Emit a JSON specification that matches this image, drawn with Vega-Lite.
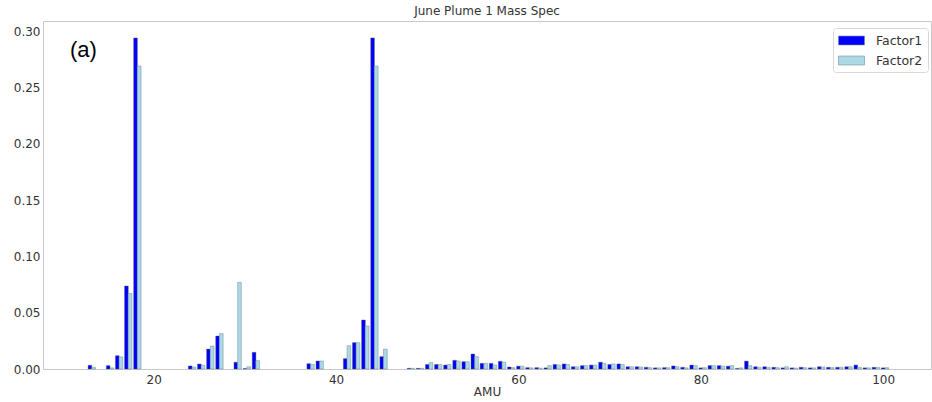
{
  "$schema": "https://vega.github.io/schema/vega-lite/v6.json",
  "width": 888,
  "height": 348,
  "autosize": {"type": "none"},
  "padding": {"left": 43, "top": 21, "right": 1, "bottom": 33},
  "title": {"text": "June Plume 1 Mass Spec", "fontSize": 12, "fontWeight": "normal", "font": "DejaVu Sans", "color": "#333", "offset": 3},
  "datasets": {
    "spec": [
      {"AMU": 13, "Factor1": 0.0033, "Factor2": 0.0015},
      {"AMU": 15, "Factor1": 0.003, "Factor2": 0.001},
      {"AMU": 16, "Factor1": 0.0118, "Factor2": 0.0107},
      {"AMU": 17, "Factor1": 0.0737, "Factor2": 0.067},
      {"AMU": 18, "Factor1": 0.294, "Factor2": 0.269},
      {"AMU": 24, "Factor1": 0.0027, "Factor2": 0.0018},
      {"AMU": 25, "Factor1": 0.0044, "Factor2": 0.0033},
      {"AMU": 26, "Factor1": 0.0177, "Factor2": 0.0204},
      {"AMU": 27, "Factor1": 0.0293, "Factor2": 0.0314},
      {"AMU": 29, "Factor1": 0.006, "Factor2": 0.077},
      {"AMU": 30, "Factor1": 0.0004, "Factor2": 0.002},
      {"AMU": 31, "Factor1": 0.0148, "Factor2": 0.0074},
      {"AMU": 37, "Factor1": 0.0047, "Factor2": 0.0041},
      {"AMU": 38, "Factor1": 0.0071, "Factor2": 0.0071},
      {"AMU": 41, "Factor1": 0.0092, "Factor2": 0.0207},
      {"AMU": 42, "Factor1": 0.0234, "Factor2": 0.0234},
      {"AMU": 43, "Factor1": 0.0435, "Factor2": 0.0382},
      {"AMU": 44, "Factor1": 0.294, "Factor2": 0.269},
      {"AMU": 45, "Factor1": 0.011, "Factor2": 0.0177},
      {"AMU": 48, "Factor1": 0.0006, "Factor2": 0.0006},
      {"AMU": 49, "Factor1": 0.0006, "Factor2": 0.0006},
      {"AMU": 50, "Factor1": 0.004, "Factor2": 0.0057},
      {"AMU": 51, "Factor1": 0.004, "Factor2": 0.004},
      {"AMU": 52, "Factor1": 0.0035, "Factor2": 0.004},
      {"AMU": 53, "Factor1": 0.0077, "Factor2": 0.0071},
      {"AMU": 54, "Factor1": 0.0065, "Factor2": 0.0065},
      {"AMU": 55, "Factor1": 0.0133, "Factor2": 0.011},
      {"AMU": 56, "Factor1": 0.005, "Factor2": 0.005},
      {"AMU": 57, "Factor1": 0.005, "Factor2": 0.0035},
      {"AMU": 58, "Factor1": 0.0068, "Factor2": 0.006},
      {"AMU": 59, "Factor1": 0.0018, "Factor2": 0.0012},
      {"AMU": 60, "Factor1": 0.0025, "Factor2": 0.0025},
      {"AMU": 61, "Factor1": 0.0012, "Factor2": 0.001},
      {"AMU": 62, "Factor1": 0.0012, "Factor2": 0.0008},
      {"AMU": 63, "Factor1": 0.001, "Factor2": 0.003},
      {"AMU": 64, "Factor1": 0.004, "Factor2": 0.0035},
      {"AMU": 65, "Factor1": 0.0045, "Factor2": 0.004},
      {"AMU": 66, "Factor1": 0.002, "Factor2": 0.002},
      {"AMU": 67, "Factor1": 0.003, "Factor2": 0.003},
      {"AMU": 68, "Factor1": 0.0035, "Factor2": 0.0035},
      {"AMU": 69, "Factor1": 0.006, "Factor2": 0.005},
      {"AMU": 70, "Factor1": 0.004, "Factor2": 0.0045},
      {"AMU": 71, "Factor1": 0.0045, "Factor2": 0.004},
      {"AMU": 72, "Factor1": 0.002, "Factor2": 0.002},
      {"AMU": 73, "Factor1": 0.002, "Factor2": 0.0018},
      {"AMU": 74, "Factor1": 0.0015, "Factor2": 0.0012},
      {"AMU": 75, "Factor1": 0.001, "Factor2": 0.001},
      {"AMU": 76, "Factor1": 0.0012, "Factor2": 0.0012},
      {"AMU": 77, "Factor1": 0.0027, "Factor2": 0.002},
      {"AMU": 78, "Factor1": 0.0015, "Factor2": 0.001},
      {"AMU": 79, "Factor1": 0.0035, "Factor2": 0.003},
      {"AMU": 80, "Factor1": 0.001, "Factor2": 0.0012},
      {"AMU": 81, "Factor1": 0.003, "Factor2": 0.003},
      {"AMU": 82, "Factor1": 0.003, "Factor2": 0.0025},
      {"AMU": 83, "Factor1": 0.0025, "Factor2": 0.003},
      {"AMU": 84, "Factor1": 0.0005, "Factor2": 0.001},
      {"AMU": 85, "Factor1": 0.007, "Factor2": 0.003},
      {"AMU": 86, "Factor1": 0.002, "Factor2": 0.0015},
      {"AMU": 87, "Factor1": 0.002, "Factor2": 0.0015},
      {"AMU": 88, "Factor1": 0.0015, "Factor2": 0.0012},
      {"AMU": 89, "Factor1": 0.001, "Factor2": 0.002},
      {"AMU": 90, "Factor1": 0.001, "Factor2": 0.0008},
      {"AMU": 91, "Factor1": 0.0015, "Factor2": 0.0012},
      {"AMU": 92, "Factor1": 0.001, "Factor2": 0.001},
      {"AMU": 93, "Factor1": 0.002, "Factor2": 0.0018},
      {"AMU": 94, "Factor1": 0.0015, "Factor2": 0.0012},
      {"AMU": 95, "Factor1": 0.0015, "Factor2": 0.0015},
      {"AMU": 96, "Factor1": 0.002, "Factor2": 0.002},
      {"AMU": 97, "Factor1": 0.0035, "Factor2": 0.0015},
      {"AMU": 98, "Factor1": 0.001, "Factor2": 0.001},
      {"AMU": 99, "Factor1": 0.0015, "Factor2": 0.0015},
      {"AMU": 100, "Factor1": 0.001, "Factor2": 0.0012}
    ]
  },
  "encoding": {
    "x": {
      "type": "quantitative",
      "scale": {"domain": [8.4, 104.7], "nice": false, "zero": false},
      "axis": {"title": "AMU", "values": [20, 40, 60, 80, 100], "grid": false, "ticks": false, "domain": false, "labelPadding": 5, "titlePadding": 1}
    },
    "y": {
      "type": "quantitative",
      "scale": {"domain": [0, 0.309], "nice": false},
      "axis": {"title": null, "values": [0, 0.05, 0.1, 0.15, 0.2, 0.25, 0.3], "format": ".2f", "grid": false, "ticks": false, "domain": false, "labelPadding": 3}
    }
  },
  "layer": [
    {
      "data": {"name": "spec"},
      "mark": {"type": "bar", "width": 3.69, "xOffset": 0, "stroke": "#555", "strokeWidth": 0.4},
      "encoding": {
        "x": {"field": "AMU"},
        "y": {"field": "Factor1"},
        "color": {
          "datum": "Factor1",
          "scale": {"domain": ["Factor1", "Factor2"], "range": ["#0000ff", "#add8e6"]},
          "legend": {
            "title": null,
            "orient": "none",
            "legendX": 790,
            "legendY": 7,
            "strokeColor": "#d8d8d8",
            "cornerRadius": 3,
            "padding": 5,
            "fillColor": "white",
            "symbolType": "M-1.86,-0.64h3.72v1.28h-3.72z",
            "symbolSize": 196,
            "symbolStrokeColor": "#888",
            "symbolStrokeWidth": 0.6,
            "symbolOpacity": 1,
            "symbolOffset": 6,
            "labelFontSize": 12.5,
            "labelFont": "DejaVu Sans",
            "labelColor": "#333",
            "labelOffset": 17,
            "rowPadding": 6
          }
        }
      }
    },
    {
      "data": {"name": "spec"},
      "mark": {"type": "bar", "width": 3.69, "xOffset": 3.69, "stroke": "#6f8f99", "strokeWidth": 0.5},
      "encoding": {
        "x": {"field": "AMU"},
        "y": {"field": "Factor2"},
        "color": {"datum": "Factor2"}
      }
    },
    {
      "data": {"values": [{"label": "(a)"}]},
      "mark": {"type": "text", "font": "Liberation Sans", "fontSize": 22, "align": "left", "baseline": "middle", "color": "black"},
      "encoding": {
        "text": {"field": "label"},
        "x": {"datum": 10.8},
        "y": {"datum": 0.283}
      }
    }
  ],
  "config": {
    "view": {"stroke": "#c8c8c8", "strokeWidth": 1},
    "axis": {"labelFont": "DejaVu Sans", "labelFontSize": 12, "labelColor": "#333", "titleFont": "DejaVu Sans", "titleFontSize": 12, "titleFontWeight": "normal", "titleColor": "#333"}
  }
}
